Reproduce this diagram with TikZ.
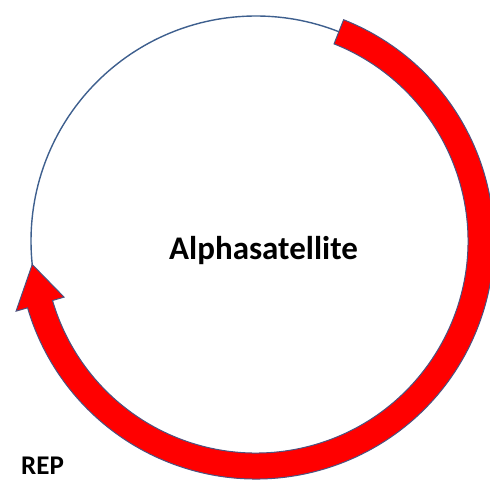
\documentclass[tikz,border=0pt]{standalone}
\usepackage{fontspec}
\setmainfont{Carlito}
\begin{document}
\begin{tikzpicture}[x=1pt,y=1pt,
  backbone/.style={draw=ringblue,line width=1.4pt},
  geneband/.style={fill=red,draw=bandedge,line width=1pt,line join=miter},
  label/.style={font=\bfseries,text=black,inner sep=0pt}]
\definecolor{ringblue}{HTML}{3E5F8E}
\definecolor{bandedge}{HTML}{4A5380}
\useasboundingbox (0,0) rectangle (490,482);
\coordinate (c) at (256,241);
\draw[backbone] (c) circle (225);
\begin{scope}[shift={(c)}]
  \path[geneband] (68.4:238) arc[start angle=68.4,end angle=-163.7,radius=238]
    -- (-163.7:250) -- (-174:225) -- (-163.7:200) -- (-163.7:212)
    arc[start angle=-163.7,end angle=68.4,radius=212] -- cycle;
\end{scope}
\node[label,font=\bfseries\fontsize{33}{36}\selectfont,anchor=base] (title) at (263.5,222) {Alphasatellite};
\node[label,font=\bfseries\fontsize{27}{30}\selectfont,anchor=base west] (rep) at (21,7) {REP};
\end{tikzpicture}
\end{document}
